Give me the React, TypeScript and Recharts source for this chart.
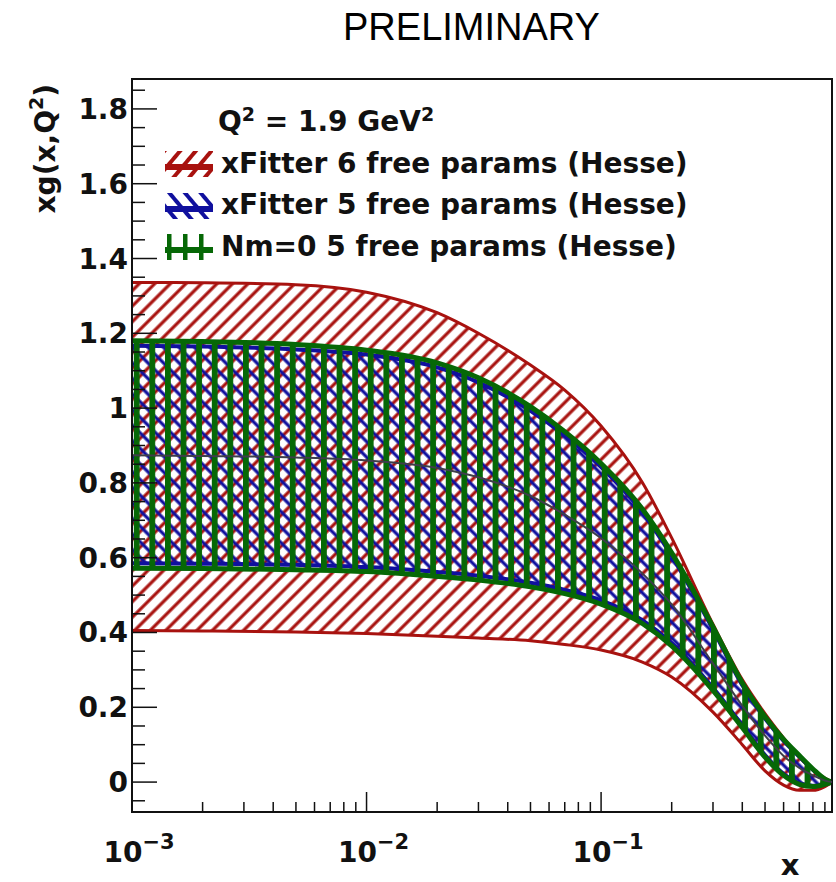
import { Area, ComposedChart, Legend, Line, ReferenceArea, XAxis, YAxis } from "recharts";

// x grid (log scale) and band edges
const X_VALUES = [0.001, 0.002, 0.005, 0.01, 0.02, 0.03, 0.05, 0.07, 0.1, 0.15, 0.2, 0.3, 0.4, 0.5, 0.6, 0.7, 0.8, 0.9, 0.965];

const RED_HIGH = [1.336, 1.335, 1.33, 1.31, 1.255, 1.2, 1.115, 1.048, 0.952, 0.801, 0.653, 0.422, 0.274, 0.183, 0.118, 0.067, 0.032, 0.011, 0.0];
const RED_LOW = [0.405, 0.404, 0.401, 0.397, 0.39, 0.385, 0.378, 0.368, 0.353, 0.321, 0.281, 0.187, 0.1, 0.03, -0.008, -0.022, -0.022, -0.012, 0.0];

const BLUE_HIGH = [1.167, 1.165, 1.157, 1.143, 1.109, 1.069, 0.993, 0.927, 0.842, 0.721, 0.605, 0.408, 0.259, 0.17, 0.11, 0.068, 0.033, 0.007, 0.0];
const BLUE_LOW = [0.585, 0.584, 0.581, 0.575, 0.562, 0.552, 0.533, 0.514, 0.486, 0.433, 0.372, 0.252, 0.152, 0.072, 0.022, -0.003, -0.01, -0.005, 0.0];

const GREEN_HIGH = [1.18, 1.178, 1.17, 1.155, 1.121, 1.081, 1.004, 0.937, 0.852, 0.73, 0.613, 0.415, 0.265, 0.175, 0.114, 0.071, 0.035, 0.008, 0.0];
const GREEN_LOW = [0.572, 0.571, 0.568, 0.563, 0.55, 0.54, 0.522, 0.504, 0.476, 0.424, 0.364, 0.245, 0.146, 0.067, 0.018, -0.006, -0.012, -0.006, 0.0];

const CENTRAL = [0.874, 0.872, 0.868, 0.86, 0.84, 0.815, 0.765, 0.715, 0.652, 0.558, 0.475, 0.317, 0.204, 0.124, 0.07, 0.038, 0.018, 0.004, 0.0];

const X_MIN = 0.001;
const X_MAX = 0.965;
const Y_MIN = -0.08;
const Y_MAX = 1.88;

const X_MAJOR_TICKS = [0.001, 0.01, 0.1];
const X_MINOR_STEPS = [2, 3, 4, 5, 6, 7, 8, 9];
const Y_MAJOR_TICKS = [0, 0.2, 0.4, 0.6, 0.8, 1, 1.2, 1.4, 1.6, 1.8];
const Y_MINOR_STEP = 0.05;

const RED = "#a8120f";
const BLUE = "#10109e";
const GREEN = "#066806";

const LEGEND_ITEMS = [
  { label: "xFitter 6 free params (Hesse)", color: RED, pattern: "legendRed" },
  { label: "xFitter 5 free params (Hesse)", color: BLUE, pattern: "legendBlue" },
  { label: "Nm=0 5 free params (Hesse)", color: GREEN, pattern: "legendGreen" },
];

const FONT = { fontFamily: "'DejaVu Sans', sans-serif", fontWeight: 700, fontSize: 28, fill: "#111" };

const data = X_VALUES.map((x, i) => ({
  x,
  red: [RED_LOW[i], RED_HIGH[i]],
  blue: [BLUE_LOW[i], BLUE_HIGH[i]],
  green: [GREEN_LOW[i], GREEN_HIGH[i]],
  central: CENTRAL[i],
}));

const xTicks = X_MAJOR_TICKS.flatMap((d) => [d, ...X_MINOR_STEPS.map((m) => +(m * d).toPrecision(3))]).filter(
  (v) => v <= X_MAX
);

const yTicks: number[] = [];
for (let v = Math.ceil(Y_MIN / Y_MINOR_STEP) * Y_MINOR_STEP; v <= Y_MAX; v += Y_MINOR_STEP) {
  yTicks.push(+v.toFixed(2));
}

const isMajorY = (v: number) => Y_MAJOR_TICKS.some((t) => Math.abs(t - v) < 1e-6);
const formatY = (v: number) => (v === 0 ? "0" : v === 1 ? "1" : v.toFixed(1));

function XTick(props: any) {
  const { x, y, payload } = props;
  const v = payload.value as number;
  const major = X_MAJOR_TICKS.includes(v);
  const exp = Math.round(Math.log10(v));
  return (
    <g>
      <line x1={x} x2={x} y1={y} y2={y - (major ? 20 : 10)} stroke="#111" strokeWidth={1.5} />
      {major && (
        <text x={x + 7} y={y + 50} textAnchor="middle" style={FONT}>
          10
          <tspan dy={-13} fontSize={21}>
            {"\u2212" + Math.abs(exp)}
          </tspan>
        </text>
      )}
    </g>
  );
}

function YTick(props: any) {
  const { x, y, payload } = props;
  const v = payload.value as number;
  const major = isMajorY(v);
  return (
    <g>
      <line x1={x} x2={x + (major ? 25 : 13)} y1={y} y2={y} stroke="#111" strokeWidth={1.5} />
      {major && (
        <text x={x - 4} y={y + 10} textAnchor="end" style={FONT}>
          {formatY(v)}
        </text>
      )}
    </g>
  );
}

function YTitle(props: any) {
  const vb = props.viewBox ?? { x: 72, y: 79 };
  const x = vb.x - 17;
  const y = vb.y + 5;
  return (
    <text transform={`translate(${x},${y}) rotate(-90)`} textAnchor="end" style={{ ...FONT, fontSize: 28 }}>
      xg(x,Q
      <tspan dy={-12} fontSize={19}>
        2
      </tspan>
      <tspan dy={12}>)</tspan>
    </text>
  );
}

function XTitle(props: any) {
  const vb = props.viewBox ?? { x: 132, y: 812, width: 700 };
  return (
    <text x={vb.x + vb.width - 42} y={vb.y + 63} textAnchor="middle" style={{ ...FONT, fontSize: 29 }}>
      x
    </text>
  );
}

function LegendBox() {
  const sup = { fontSize: 19, verticalAlign: "super", lineHeight: 0 } as const;
  return (
    <div
      style={{
        fontFamily: "'DejaVu Sans', sans-serif",
        fontWeight: 700,
        fontSize: 28,
        color: "#111",
        lineHeight: "41.5px",
        whiteSpace: "nowrap",
      }}
    >
      <div style={{ paddingLeft: 55, height: 41.5 }}>
        Q<span style={sup}>2</span> = 1.9 GeV<span style={sup}>2</span>
      </div>
      {LEGEND_ITEMS.map((item) => (
        <div key={item.label} style={{ display: "flex", alignItems: "center", height: 41.5 }}>
          <svg width={52} height={30} style={{ display: "block" }}>
            <rect x={2} y={3} width={48} height={26} fill={`url(#${item.pattern})`} />
            <line x1={2} x2={50} y1={19} y2={19} stroke={item.color} strokeWidth={6} />
          </svg>
          <span style={{ marginLeft: 6 }}>{item.label}</span>
        </div>
      ))}
    </div>
  );
}

export default function App() {
  return (
    <div style={{ position: "absolute", left: 0, top: 0, width: 836, height: 882, background: "#fff" }}>
      <svg width={0} height={0} style={{ position: "absolute" }}>
        <defs>
          <pattern id="hatchRed" patternUnits="userSpaceOnUse" width={11} height={11} patternTransform="rotate(45)">
            <line x1={2} y1={0} x2={2} y2={11} stroke={RED} strokeWidth={3.2} />
          </pattern>
          <pattern id="hatchBlue" patternUnits="userSpaceOnUse" width={11} height={11} patternTransform="rotate(-45)">
            <line x1={2} y1={0} x2={2} y2={11} stroke={BLUE} strokeWidth={3.2} />
          </pattern>
          <pattern id="hatchGreen" patternUnits="userSpaceOnUse" width={15.6} height={10} x={9}>
            <rect x={0} y={0} width={5.8} height={10} fill={GREEN} />
          </pattern>
          <pattern id="legendRed" patternUnits="userSpaceOnUse" width={12} height={12} patternTransform="rotate(40)">
            <line x1={3} y1={0} x2={3} y2={12} stroke={RED} strokeWidth={4} />
          </pattern>
          <pattern id="legendBlue" patternUnits="userSpaceOnUse" width={12} height={12} patternTransform="rotate(-40)">
            <line x1={3} y1={0} x2={3} y2={12} stroke={BLUE} strokeWidth={4} />
          </pattern>
          <pattern id="legendGreen" patternUnits="userSpaceOnUse" width={16} height={10} x={4}>
            <rect x={0} y={0} width={4.5} height={10} fill={GREEN} />
          </pattern>
        </defs>
      </svg>
      <div
        style={{
          position: "absolute",
          left: 343,
          top: 6,
          fontFamily: "'Liberation Sans', Arial, sans-serif",
          fontSize: 38,
          color: "#000",
          whiteSpace: "nowrap",
        }}
      >
        PRELIMINARY
      </div>
      <ComposedChart width={836} height={882} data={data} margin={{ top: 79, right: 4, left: 72, bottom: 30 }}>
        <XAxis
          dataKey="x"
          type="number"
          scale="log"
          domain={[X_MIN, X_MAX]}
          allowDataOverflow
          ticks={xTicks}
          interval={0}
          tick={<XTick />}
          tickLine={false}
          tickSize={0}
          tickMargin={0}
          height={40}
          axisLine={{ stroke: "#111", strokeWidth: 2 }}
          label={<XTitle />}
        />
        <YAxis
          type="number"
          domain={[Y_MIN, Y_MAX]}
          allowDataOverflow
          ticks={yTicks}
          interval={0}
          tick={<YTick />}
          tickLine={false}
          tickSize={0}
          tickMargin={0}
          width={60}
          axisLine={{ stroke: "#111", strokeWidth: 2 }}
          label={<YTitle />}
        />
        <Area
          type="monotone"
          dataKey="red"
          fill="url(#hatchRed)"
          fillOpacity={1}
          stroke={RED}
          strokeWidth={3}
          isAnimationActive={false}
          dot={false}
          activeDot={false}
        />
        <Area
          type="monotone"
          dataKey="blue"
          fill="url(#hatchBlue)"
          fillOpacity={1}
          stroke={BLUE}
          strokeWidth={4}
          isAnimationActive={false}
          dot={false}
          activeDot={false}
        />
        <Area
          type="monotone"
          dataKey="green"
          fill="url(#hatchGreen)"
          fillOpacity={1}
          stroke={GREEN}
          strokeWidth={5}
          isAnimationActive={false}
          dot={false}
          activeDot={false}
        />
        <Line
          type="monotone"
          dataKey="central"
          stroke="#3e3e4a"
          strokeWidth={2}
          dot={false}
          activeDot={false}
          isAnimationActive={false}
        />
        <ReferenceArea
          x1={X_MIN}
          x2={X_MAX}
          y1={Y_MIN}
          y2={Y_MAX}
          fill="none"
          fillOpacity={0}
          stroke="#111"
          strokeWidth={2}
        />
        <Legend
          layout="vertical"
          align="center"
          verticalAlign="middle"
          content={<LegendBox />}
          wrapperStyle={{ left: 163, top: 101, width: 620 }}
        />
      </ComposedChart>
    </div>
  );
}
